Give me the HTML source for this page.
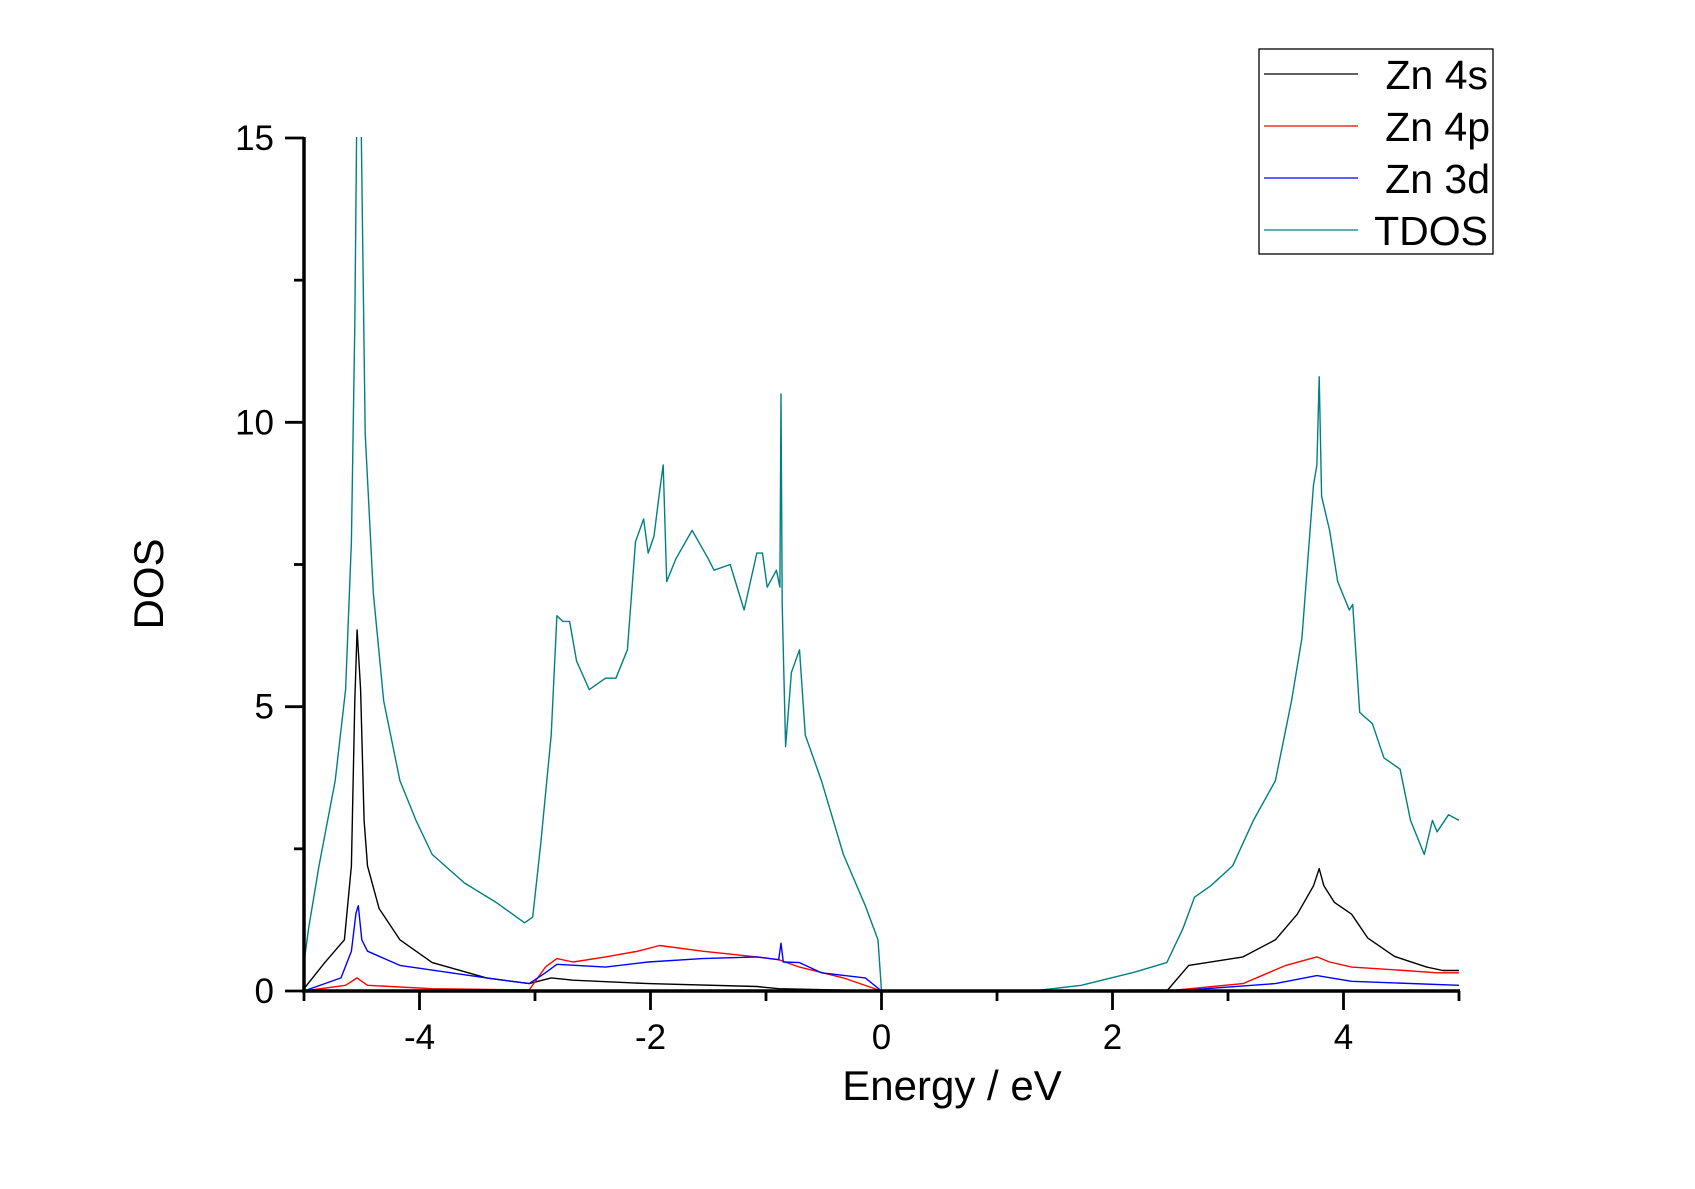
<!DOCTYPE html>
<html><head><meta charset="utf-8"><style>
body{margin:0;background:#fff}
svg{display:block;font-family:"Liberation Sans",Arial,sans-serif}
</style></head><body>
<svg id="chart" width="1695" height="1189" viewBox="0 0 1695 1189" xmlns="http://www.w3.org/2000/svg">
<defs><clipPath id="plotclip"><rect x="303" y="137" width="1157" height="856"/></clipPath></defs>
<g id="series" clip-path="url(#plotclip)"></g>
<g id="axes"></g>
<text x="152" y="584" font-size="42" text-anchor="middle" transform="rotate(-90 152 584)" dominant-baseline="middle">DOS</text>
<text x="952" y="1100" font-size="42" text-anchor="middle">Energy / eV</text>
<g>
<rect x="1259" y="49" width="234" height="205" fill="#fff" stroke="#000" stroke-width="1.3"/>
<g><line x1="1264" y1="74" x2="1358" y2="74" stroke="#000" stroke-width="1.3"/><text x="1488" y="89" font-size="41" text-anchor="end">Zn 4s</text></g>
<g><line x1="1264" y1="126" x2="1358" y2="126" stroke="#f00" stroke-width="1.3"/><text x="1490" y="141" font-size="41" text-anchor="end">Zn 4p</text></g>
<g><line x1="1264" y1="178" x2="1358" y2="178" stroke="#00f" stroke-width="1.3"/><text x="1490" y="193" font-size="41" text-anchor="end">Zn 3d</text></g>
<g><line x1="1264" y1="230" x2="1358" y2="230" stroke="#008080" stroke-width="1.3"/><text x="1488" y="245" font-size="41" text-anchor="end">TDOS</text></g>
</g>
</svg>
<script>
const xTicks=[-4,-2,0,2,4];
const yTicks=[0,5,10,15];
const tdosE=[-5.00,-4.96,-4.87,-4.73,-4.64,-4.59,-4.56,-4.54,-4.51,-4.47,-4.40,-4.31,-4.17,-4.03,-3.89,-3.61,-3.33,-3.09,-3.02,-2.95,-2.86,-2.81,-2.76,-2.70,-2.64,-2.53,-2.39,-2.30,-2.20,-2.13,-2.06,-2.02,-1.97,-1.92,-1.89,-1.86,-1.78,-1.64,-1.50,-1.45,-1.31,-1.19,-1.08,-1.03,-0.99,-0.91,-0.88,-0.87,-0.86,-0.83,-0.78,-0.71,-0.66,-0.52,-0.33,-0.14,-0.03,0.00,1.31,1.73,2.19,2.47,2.61,2.71,2.85,3.04,3.22,3.41,3.55,3.64,3.74,3.77,3.79,3.81,3.88,3.95,4.05,4.08,4.14,4.25,4.35,4.49,4.58,4.70,4.77,4.81,4.91,5.00];
const tdosV=[0.5,1.1,2.2,3.7,5.3,7.9,11.7,16,16,9.8,7.0,5.1,3.7,3.0,2.4,1.9,1.55,1.2,1.3,2.6,4.5,6.6,6.5,6.5,5.8,5.3,5.5,5.5,6.0,7.9,8.3,7.7,8.0,8.8,9.25,7.2,7.6,8.1,7.6,7.4,7.5,6.7,7.7,7.7,7.1,7.4,7.1,10.5,6.8,4.3,5.6,6.0,4.5,3.7,2.4,1.5,0.9,0,0,0.1,0.33,0.5,1.1,1.65,1.85,2.2,3.0,3.7,5.1,6.2,8.9,9.25,10.8,8.7,8.1,7.2,6.7,6.8,4.9,4.7,4.1,3.9,3.0,2.4,3.0,2.8,3.1,3.0];
const s4E=[-5.00,-4.82,-4.65,-4.59,-4.56,-4.54,-4.51,-4.48,-4.45,-4.35,-4.17,-3.89,-3.42,-3.05,-2.86,-2.67,-2.02,-1.08,-0.89,0.00,2.47,2.66,3.13,3.41,3.60,3.74,3.79,3.83,3.92,4.07,4.21,4.44,4.72,4.86,5.00];
const s4V=[0.04,0.5,0.9,2.2,5.1,6.35,5.3,3.0,2.2,1.45,0.9,0.5,0.23,0.13,0.23,0.19,0.13,0.08,0.04,0,0,0.45,0.6,0.9,1.35,1.85,2.15,1.85,1.56,1.35,0.93,0.61,0.42,0.36,0.36];
const p4E=[-5.00,-4.64,-4.54,-4.45,-3.89,-3.05,-2.91,-2.81,-2.67,-2.39,-2.11,-1.92,-1.55,-1.08,-0.89,-0.71,-0.33,0.00,2.47,3.13,3.50,3.77,3.88,4.07,4.53,4.81,5.00];
const p4V=[0,0.1,0.23,0.1,0.04,0.02,0.42,0.57,0.51,0.6,0.7,0.8,0.7,0.6,0.55,0.42,0.23,0,0,0.13,0.45,0.6,0.51,0.42,0.36,0.32,0.32];
const d3E=[-5.00,-4.68,-4.59,-4.55,-4.53,-4.50,-4.45,-4.17,-3.42,-3.05,-2.91,-2.81,-2.39,-2.02,-1.55,-1.08,-0.89,-0.87,-0.85,-0.71,-0.52,-0.14,0.00,2.66,3.41,3.77,4.07,5.00];
const d3V=[0,0.23,0.7,1.37,1.5,0.9,0.7,0.45,0.23,0.13,0.32,0.47,0.42,0.51,0.57,0.6,0.55,0.84,0.51,0.5,0.32,0.23,0,0.02,0.13,0.27,0.17,0.1];
const X0=304,X1=1459,Y0=991,Y15=138;
function xs(e){return X0+(e+5)/10*(X1-X0);}
function ys(v){return Y0-v/15*(Y0-Y15);}
const NS='http://www.w3.org/2000/svg';
const sg=document.getElementById('series'), ag=document.getElementById('axes');
function mk(tag,attrs,parent){const el=document.createElementNS(NS,tag);for(const k in attrs)el.setAttribute(k,attrs[k]);parent.appendChild(el);return el;}
function drawLine(E,V,color,name){
  const pts=E.map((e,i)=>xs(e).toFixed(1)+','+ys(V[i]).toFixed(1)).join(' ');
  const pl=mk('polyline',{points:pts,fill:'none',stroke:color,'stroke-width':1.4,'stroke-linejoin':'round'},sg);
  
  
}
drawLine(tdosE,tdosV,'#008080','tdos-line');
drawLine(s4E,s4V,'#000','zn-4s-line');
drawLine(p4E,p4V,'#f00','zn-4p-line');
drawLine(d3E,d3V,'#00f','zn-3d-line');
const xa=mk('line',{x1:X0-2,y1:Y0,x2:X1+1,y2:Y0,stroke:'#000','stroke-width':3.5},ag);


const ya=mk('line',{x1:X0,y1:Y15-1,x2:X0,y2:Y0+1,stroke:'#000','stroke-width':3.5},ag);


for(let e=-5;e<=5;e++){
  const major=xTicks.includes(e);
  mk('line',{x1:xs(e),y1:Y0,x2:xs(e),y2:Y0+(major?19:10),stroke:'#000','stroke-width':2.8},ag);
}
xTicks.forEach(t=>{
  const tx=mk('text',{x:xs(t),y:1049,'font-size':35,'text-anchor':'middle'},ag);
  tx.textContent=String(t);
  
  
});
for(let v=0;v<=15;v+=2.5){
  const major=yTicks.includes(v);
  mk('line',{x1:X0,y1:ys(v),x2:X0-(major?19:10),y2:ys(v),stroke:'#000','stroke-width':2.8},ag);
}
yTicks.forEach(t=>{
  const ty=mk('text',{x:274,y:ys(t)+12,'font-size':35,'text-anchor':'end'},ag);
  ty.textContent=String(t);
  
  
});
</script>
</body></html>
